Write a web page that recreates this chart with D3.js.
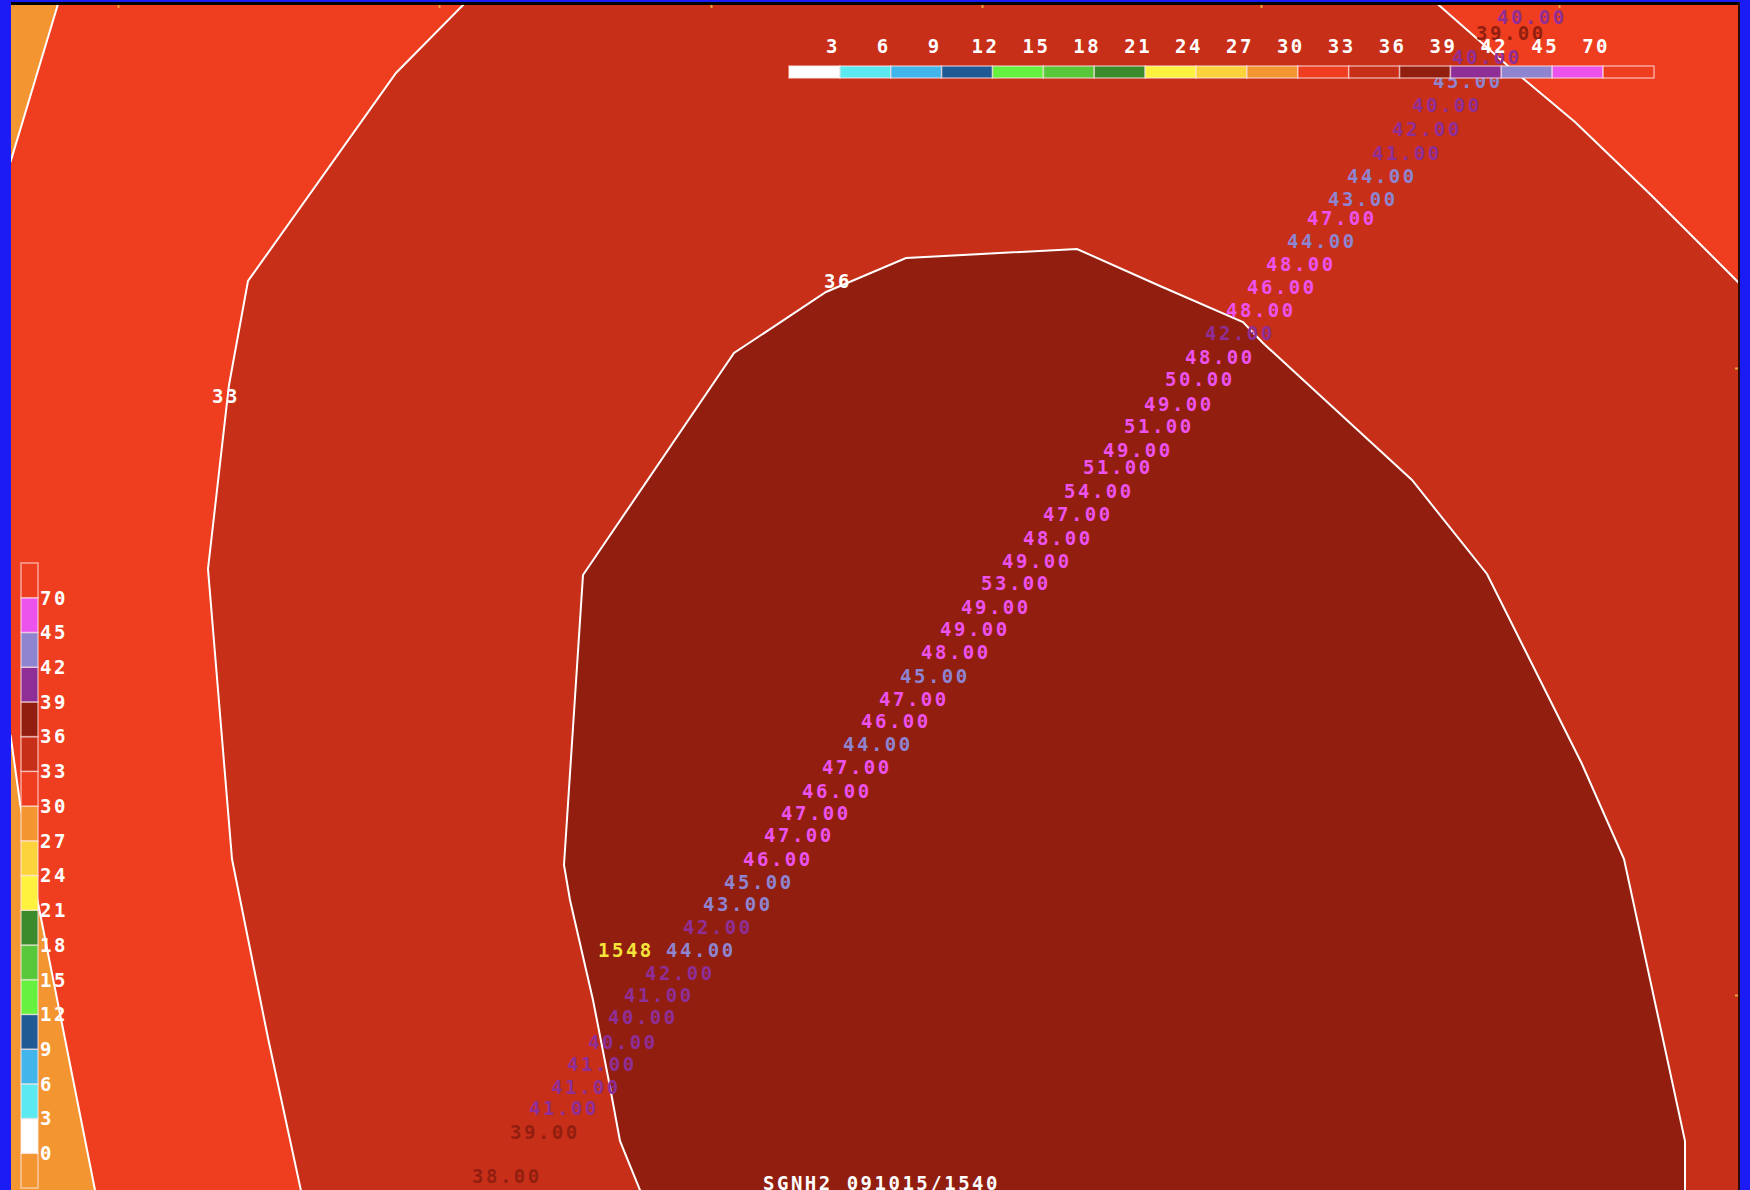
<!DOCTYPE html>
<html>
<head>
<meta charset="utf-8">
<script src="https://cdn.jsdelivr.net/npm/d3@7"></script>
<style>
  body { margin: 0; background: #1b1bf6; overflow: hidden; }
  svg text {
    font-family: "DejaVu Sans Mono", "Liberation Mono", monospace;
    font-weight: bold;
    font-size: 19px;
    letter-spacing: 2.5px;
  }
</style>
</head>
<body>
<div id="chart"></div>
<script>
// Contour levels and the fill colour of each band (index i = levels[i-1] .. levels[i])
const levels = [0, 3, 6, 9, 12, 15, 18, 21, 24, 27, 30, 33, 36, 39, 42, 45, 70]
const fillColors = ['#f39530', '#ffffff', '#5ceaf0', '#42b6ea', '#1f5a94', '#66f040', '#58c83a',
  '#3b8b2c', '#fff23e', '#fdd33c', '#f39530', '#ee3e1f', '#c82f19', '#921e0f', '#8e2e96',
  '#8e84cf', '#ec52ec', '#ee3e1f']

// Station readings along the transect (grid km east / km south of the map corner)
const stationX = [149.7, 147.6, 145.2, 143.3, 141.2, 139.2, 137.2, 134.7, 132.8, 130.7, 128.7,
  126.6, 124.7, 122.6, 120.5, 118.5, 116.5, 114.4, 112.4, 110.3, 108.3, 106.4, 104.3, 102.3,
  100.2, 98.1, 96.1, 94.0, 92.1, 90.0, 87.9, 86.1, 84.3, 82.2, 80.2, 78.1, 76.4, 74.3, 72.4,
  70.3, 68.3, 66.6, 64.5, 62.4, 60.8, 58.8, 56.7, 55.1, 52.9, 51.0, 47.2]
const stationY = [1.7, 3.3, 5.7, 8.1, 10.5, 12.9, 15.3, 17.6, 19.9, 21.8, 24.1, 26.4, 28.7, 31.0,
  33.3, 35.7, 37.9, 40.4, 42.6, 45.0, 46.7, 49.1, 51.4, 53.8, 56.1, 58.3, 60.7, 62.9, 65.2, 67.6,
  69.9, 72.1, 74.4, 76.7, 79.1, 81.3, 83.5, 85.9, 88.2, 90.4, 92.7, 95.0, 97.3, 99.5, 101.7,
  104.2, 106.4, 108.7, 110.8, 113.2, 117.6]
const stationValue = [40, 39, 40, 45, 40, 42, 41, 44, 43, 47, 44, 48, 46, 48, 42, 48, 50, 49, 51,
  49, 51, 54, 47, 48, 49, 53, 49, 49, 48, 45, 47, 46, 44, 47, 46, 47, 47, 46, 45, 43, 42, 44, 42,
  41, 40, 40, 41, 41, 41, 39, 38]

// Station id marker and product stamp
const stationId = '1548'
const stationIdPos = [59.8, 95.0]
const stamp = 'SGNH2 091015/1540'
const stampPos = [76.3, 119.0]

// Contour lines (km)
const c30Top = [[5.92, 0], [1.05, 16.2]]
const c30Bottom = [[1.05, 73.5], [2.0, 80.3], [3.8, 90.3], [9.5, 119], [9.6, 120]]
const c33Left = [[46.8, 0], [39.6, 7.3], [24.8, 28.1], [22.9, 38.5], [20.8, 56.9], [23.2, 85.9],
  [26.8, 103.8], [30.3, 120]]
const c33Right = [[143.3, 0], [150.7, 6.5], [157.5, 12.2], [165.2, 19.6], [175, 29.4]]
const c36 = [[64.4, 120], [62.0, 114.1], [61.0, 108.7], [59.3, 100], [57.0, 90], [56.4, 86.5],
  [58.3, 57.5], [73.4, 35.3], [82.6, 29.2], [90.6, 25.8], [107.7, 24.9], [116.0, 28.6],
  [124.3, 32.2], [126.3, 34.3], [135.0, 42.3], [141.2, 48.0], [148.7, 57.4],
  [158.2, 76.4], [162.4, 85.9], [168.5, 114.1], [168.5, 120]]

const contourLabels = ['33', '36']
const contourLabelX = [21.2, 82.4]
const contourLabelY = [39.6, 28.1]

// Map grid ticks
const eastTicks = [11.8, 43.9, 71.1, 98.2, 126.1, 155.9]
const southTicks = [36.8, 99.5]

const W = 1750
const H = 1190
const plot = {left: 11, top: 5, right: 1738, bottom: 1190}

const svg = d3.select('#chart')
  .append('svg')
  .attr('width', W)
  .attr('height', H)
  .style('display', 'block')

svg.append('rect')
  .attr('width', W)
  .attr('height', H)
  .attr('fill', '#1b1bf6')

// Scales
const x = d3.scaleLinear().domain([0, 175]).range([0, W])
const y = d3.scaleLinear().domain([0, 119]).range([0, H])

const bandColor = v => fillColors[d3.bisectLeft(levels, v)]

svg.append('clipPath')
  .attr('id', 'plot-clip')
  .append('rect')
  .attr('x', plot.left)
  .attr('y', plot.top)
  .attr('width', plot.right - plot.left)
  .attr('height', plot.bottom - plot.top)

const g = svg.append('g').attr('clip-path', 'url(#plot-clip)')

const path = d3.line().x(d => x(d[0])).y(d => y(d[1]))

// Filled bands
g.append('rect')
  .attr('x', plot.left)
  .attr('y', plot.top)
  .attr('width', plot.right - plot.left)
  .attr('height', plot.bottom - plot.top)
  .attr('fill', fillColors[11])

const bands = [
  {pts: [[0, 0], ...c30Top, [0, 16.2]], band: 10},
  {pts: [[0, 73.5], ...c30Bottom, [0, 120]], band: 10},
  {pts: [...c33Left, [175, 120], ...c33Right.slice().reverse()], band: 12},
  {pts: c36, band: 13}
]

g.selectAll('path.band')
  .data(bands)
  .enter()
  .append('path')
  .attr('class', 'band')
  .attr('d', d => path(d.pts) + 'Z')
  .attr('fill', d => fillColors[d.band])

// Contour lines
g.selectAll('path.contour')
  .data([c30Top, c30Bottom, c33Left, c33Right, c36])
  .enter()
  .append('path')
  .attr('class', 'contour')
  .attr('d', path)
  .attr('fill', 'none')
  .attr('stroke', '#fff')
  .attr('stroke-width', 2)

g.selectAll('text.clabel')
  .data(contourLabels)
  .enter()
  .append('text')
  .attr('class', 'clabel')
  .attr('x', (d, i) => x(contourLabelX[i]))
  .attr('y', (d, i) => y(contourLabelY[i]))
  .attr('dy', '0.36em')
  .attr('fill', '#fff')
  .text(d => d)

// Station values
g.selectAll('text.obs')
  .data(stationValue)
  .enter()
  .append('text')
  .attr('class', 'obs')
  .attr('x', (d, i) => x(stationX[i]))
  .attr('y', (d, i) => y(stationY[i]))
  .attr('dy', '0.36em')
  .attr('fill', d => bandColor(d))
  .text(d => d3.format('.2f')(d))

g.append('text')
  .attr('x', x(stationIdPos[0]))
  .attr('y', y(stationIdPos[1]))
  .attr('dy', '0.36em')
  .attr('fill', '#f5e43a')
  .text(stationId)

g.append('text')
  .attr('x', x(stampPos[0]))
  .attr('y', y(stampPos[1]))
  .attr('fill', '#fff')
  .text(stamp)

// Grid ticks on the map frame
const topTicks = svg.append('g')
  .attr('transform', `translate(0, ${plot.top})`)
  .call(d3.axisTop(x).tickValues(eastTicks).tickSize(-3).tickFormat(''))
const rightTicks = svg.append('g')
  .attr('transform', `translate(${plot.right}, 0)`)
  .call(d3.axisRight(y).tickValues(southTicks).tickSize(-3).tickFormat(''))
for (const a of [topTicks, rightTicks]) {
  a.select('.domain').remove()
  a.selectAll('line').attr('stroke', '#e6a43c').attr('stroke-width', 2)
}

// Frame lines
svg.append('rect')
  .attr('x', plot.left)
  .attr('y', 2)
  .attr('width', plot.right - plot.left + 2)
  .attr('height', 3)
  .attr('fill', '#000')
svg.append('rect')
  .attr('x', plot.right)
  .attr('y', 2)
  .attr('width', 2)
  .attr('height', H)
  .attr('fill', '#2a0a06')

// Horizontal colour bar (3 .. 70)
const xL = d3.scaleLinear().domain([0, 17]).range([789, 1654])
const hBar = svg.append('g')

hBar.selectAll('rect')
  .data(fillColors.slice(1))
  .enter()
  .append('rect')
  .attr('x', (d, i) => xL(i))
  .attr('y', 66)
  .attr('width', xL(1) - xL(0))
  .attr('height', 12)
  .attr('fill', d => d)
  .attr('stroke', 'rgba(255,235,235,0.6)')
  .attr('stroke-width', 1.5)

hBar.selectAll('text')
  .data(levels.slice(1))
  .enter()
  .append('text')
  .attr('x', (d, i) => xL(i + 1) - 7)
  .attr('y', 46)
  .attr('dy', '0.36em')
  .attr('text-anchor', 'middle')
  .attr('fill', '#fff')
  .text(d => d)

// Vertical colour bar (0 .. 70)
const yL = d3.scaleLinear().domain([0, 18]).range([1188, 563])
const vBar = svg.append('g')

vBar.selectAll('rect')
  .data(fillColors)
  .enter()
  .append('rect')
  .attr('x', 21)
  .attr('y', (d, i) => yL(i + 1))
  .attr('width', 17)
  .attr('height', yL(0) - yL(1))
  .attr('fill', d => d)
  .attr('stroke', 'rgba(255,235,235,0.6)')
  .attr('stroke-width', 1.5)

vBar.selectAll('text')
  .data(levels)
  .enter()
  .append('text')
  .attr('x', 40)
  .attr('y', (d, i) => yL(i + 1))
  .attr('dy', '0.36em')
  .attr('fill', '#fff')
  .text(d => d)
</script>
</body>
</html>
